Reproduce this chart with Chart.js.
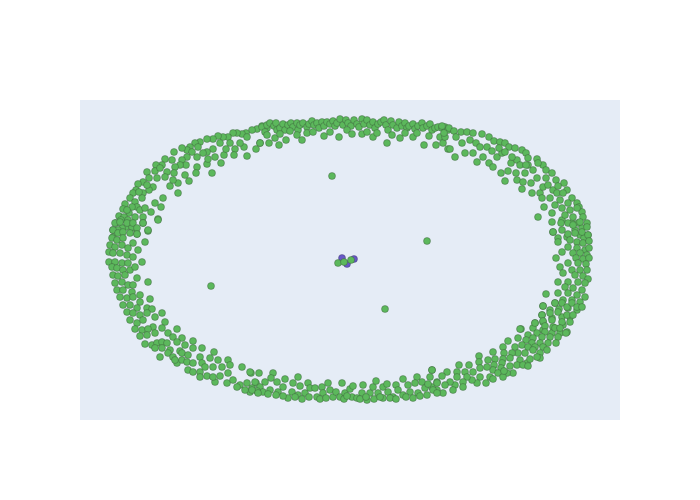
<!DOCTYPE html>
<html>
<head>
<meta charset="utf-8">
<script src="https://cdn.jsdelivr.net/npm/chart.js@4/dist/chart.umd.min.js"></script>
<style>
html,body{margin:0;padding:0;background:#fff;}
#wrap{width:700px;height:500px;position:relative;}
</style>
</head>
<body>
<div id="wrap"><canvas id="c" width="700" height="500"></canvas></div>
<script>
// Node positions (layout units)
const arcTopLeft = [[262,126],[257,129],[252,130],[267,128],[246,133],[242,134],[237,133],[233,133],[228,137],[223,137],[218,136],[213,139],[207,139],[200,142],[195,143],[190,147],[187,150],[182,148],[174,152],[172,160],[165,159],[162,165],[156,165],[155,171],[147,172],[149,178],[143,182],[138,184],[136,190],[133,193],[130,198],[125,204],[123,209],[119,216],[116,223],[113,230],[113,237],
[260,143],[256,149],[247,156],[244,147],[235,149],[234,155],[224,155],[221,163],[215,157],[212,173],[207,164],[208,159],[197,167],[196,173],[189,181],[185,175],[178,183],[178,193],[170,186],[163,198],[161,207],[155,203],[151,212],[158,219],[143,217],[143,223],[148,231],[137,234],[133,228],
[247,137],[240,143],[230,143],[226,149],[220,143],[213,149],[207,152],[203,153],[198,147],[197,157],[192,152],[187,157],[182,160],[186,165],[180,165],[175,167],[174,173],[173,180],[167,172],[165,177],[160,168],[157,178],[153,187],[149,190],[147,185],[143,193],[142,198],[139,192],[135,202],[137,207],[132,207],[129,213],[127,210],[124,217],[121,220],[128,220],[126,227],[122,228],[118,230],[132,227],[135,217],[140,210],[145,208]];

const arcTop = [[262,127],[265,132],[267,125],[270,123],[274,126],[276,123],[277,130],[280,128],[283,124],[285,130],[288,125],[291,123],[293,127],[297,123],[298,130],[300,125],[303,123],[307,127],[309,124],[312,121],[314,125],[317,123],[319,128],[322,122],[324,126],[327,122],[330,124],[333,121],[335,126],[337,123],[340,119],[343,125],[346,120],[348,123],[351,126],[354,120],[357,124],[359,127],[362,119],[364,124],[367,120],[370,125],[373,122],[375,128],[378,124],[381,122],[384,120],[386,125],[388,130],[391,121],[393,125],[397,128],[399,122],[402,126],[405,123],[407,128],[409,126],[413,124],[415,129],[418,126],[422,123],[423,128],[427,126],[430,124],[432,130],[435,128],[438,127],[442,128],[445,127],[448,130],
[260,143],[269,143],[275,138],[279,145],[286,140],[297,135],[302,140],[307,133],[313,132],[324,136],[330,132],[339,137],[347,130],[352,134],[362,134],[367,132],[373,137],[377,133],[387,143],[392,135],[400,138],[405,133],[413,137],[417,133],[424,145],[429,136],[436,145],[440,137],[443,143],[448,149],[267,135],[280,134],[290,131]];

const arcTopRight = [[442,126],[449,128],[454,131],[461,132],[467,132],[473,133],[482,134],[489,137],[494,141],[500,142],[505,143],[509,147],[515,148],[522,150],[526,153],[528,158],[537,159],[543,165],[546,170],[552,173],[556,180],[564,183],[567,190],[572,198],[577,203],[579,207],[582,212],[583,217],[587,223],[588,235],
[445,137],[450,149],[455,157],[462,143],[465,153],[470,140],[473,153],[477,162],[483,157],[487,147],[489,163],[493,167],[497,157],[501,173],[502,153],[505,181],[508,171],[511,163],[516,173],[517,180],[517,160],[522,189],[523,182],[525,173],[528,165],[531,183],[532,193],[533,170],[537,178],[538,163],[540,193],[542,198],[543,187],[544,207],[546,178],[548,185],[550,198],[552,213],[553,190],[555,205],[557,193],[558,186],[560,200],[562,208],[562,220],[563,193],[565,215],[568,203],[570,210],[572,223],[573,217],[575,230],[577,208],[578,223],[580,235],[582,228],[584,238],[538,217],[553,232],[558,238],[567,237],
[444,133],[456,137],[476,143],[480,147],[492,151],[499,148],[505,152],[512,157],[520,165],[526,165]];

const arcRight = [[552,222],[561,223],[568,223],[573,225],[580,222],[553,232],[562,230],[568,234],[575,233],[582,232],[587,227],[588,235],[558,242],[570,240],[577,242],[583,243],[589,241],[568,247],[577,248],[585,250],[589,248],[562,252],[573,253],[580,253],[587,255],[556,258],[576,258],[583,259],[589,258],[568,263],[578,263],[586,264],[560,267],[572,270],[580,270],[587,270],[563,273],[575,275],[583,276],[588,279],[558,282],[568,282],[578,282],[585,283],[565,287],[573,288],[582,290],[546,294],[558,293],[568,293],[577,295],[585,297],[555,303],[563,300],[572,300],[580,302],[543,306],[550,310],[559,309],[568,308],[577,310],[542,315],[552,318],[562,317],[570,317],[535,323],[543,322],[553,327],[563,325],[521,329],[533,328],[543,330],[552,333],[560,333],[567,332]];

const arcBottomRight = [[543,306],[555,303],[562,303],[567,307],[572,303],[577,307],[582,307],[550,313],[558,312],[567,315],[573,315],[542,315],[543,321],[552,320],[562,322],[570,322],[535,323],[545,326],[555,328],[560,328],[566,333],[537,333],[528,335],[520,329],[545,332],[550,337],[558,337],[518,338],[526,340],[533,338],[542,337],[556,343],[548,343],[540,343],[532,343],[522,345],[515,347],[508,341],[503,347],[528,347],[535,347],[543,347],[547,350],[540,353],[533,350],[525,353],[518,353],[512,353],[504,353],[493,352],[479,356],[520,360],[527,363],[530,359],[540,358],[537,357],[510,358],[503,359],[495,359],[488,360],[517,365],[523,365],[528,366],[510,366],[502,363],[494,365],[479,362],[469,365],[459,365],[501,368],[493,370],[487,367],[480,368],[473,372],[465,372],[457,372],[447,372],[432,370],[513,373],[507,373],[498,373],[490,377],[493,379],[486,383],[480,377],[477,383],[472,380],[467,377],[463,382],[457,377],[455,385],[450,382],[445,385],[442,376],[437,382],[437,390],[443,393],[453,390],[463,387],[432,387],[503,377],[504,371]];

const arcBottom = [[251,373],[259,373],[273,373],[271,378],[265,382],[256,383],[252,388],[260,387],[263,392],[270,390],[277,382],[283,387],[278,392],[285,379],[293,383],[298,377],[300,386],[292,392],[298,395],[305,393],[308,383],[310,388],[315,388],[317,397],[322,387],[323,393],[328,383],[330,390],[333,397],[336,392],[342,383],[340,397],[345,393],[350,389],[353,386],[352,397],[357,398],[363,385],[362,393],[367,400],[370,393],[373,387],[376,381],[378,393],[383,387],[383,398],[388,392],[387,384],[393,397],[396,385],[398,390],[403,379],[403,395],[408,385],[410,392],[417,377],[415,383],[418,393],[422,382],[425,388],[428,384],[430,377],[432,370],[433,390],[437,383],[437,393],[250,392],
[288,398],[295,397],[302,399],[309,397],[320,399],[326,398],[344,399],[347,396],[360,399],[366,397],[374,399],[380,397],[390,398],[396,399],[406,397],[413,398],[420,396],[427,395],[283,396],[276,395],[268,394],[257,391]];

const arcBottomLeft = [[115,223],[120,222],[127,223],[133,223],[143,223],[158,220],[137,228],[148,230],[113,230],[118,233],[123,232],[130,233],[137,234],[112,238],[117,240],[123,238],[133,243],[145,242],[110,245],[115,247],[122,245],[128,248],[138,250],[109,252],[113,253],[120,253],[127,255],[133,257],[109,262],[115,262],[122,263],[128,263],[142,262],[112,267],[117,268],[123,270],[130,270],[135,267],[113,275],[118,276],[125,275],[137,278],[148,282],[115,283],[122,282],[128,285],[133,285],[117,290],[123,290],[132,292],[140,295],[150,299],[120,297],[127,298],[133,297],[140,302],[123,305],[130,305],[137,308],[147,308],[152,309],[162,313],[127,312],[133,313],[140,315],[147,313],[155,317],[165,322],[130,320],[137,323],[143,320],[153,327],[162,328],[177,329],[135,329],[142,330],[148,329],[140,336],[147,335],[155,333],[168,333],[173,337],[182,338],[145,344],[152,345],[157,343],[162,342],[167,343],[177,342],[185,345],[193,341],[155,348],[162,348],[170,350],[180,351],[160,357],[168,353],[173,357],[182,353],[188,355],[193,348],[202,348],[214,352],[177,363],[175,360],[182,360],[187,362],[193,363],[200,357],[202,363],[210,358],[218,360],[228,360],[188,370],[193,372],[200,372],[205,367],[213,367],[222,367],[230,365],[242,367],[200,377],[207,376],[215,382],[220,376],[227,383],[233,380],[240,385],[247,383],[250,372],[255,382],[245,390],[252,390],[258,393],[228,373],[237,387],[213,377]];

const strayNodes = [[332,176],[427,241],[211,286],[385,309]];
const hubGreen = [[338,263],[344,262],[351,260]];
const hubBlue = [[342,258],[347,264],[354,259]];

const toPts = a => a.map(p => ({x: p[0], y: p[1]}));
const greenNodes = [].concat(arcTopLeft, arcTop, arcTopRight, arcRight, arcBottomRight, arcBottom, arcBottomLeft, strayNodes, hubGreen);

const bgPlugin = {
  id: 'bg',
  beforeDraw(chart) {
    const {ctx, chartArea: a} = chart;
    ctx.save();
    ctx.fillStyle = '#ffffff';
    ctx.fillRect(0, 0, chart.width, chart.height);
    ctx.fillStyle = '#e5ecf6';
    ctx.fillRect(a.left, a.top, a.right - a.left, a.bottom - a.top);
    ctx.restore();
  }
};

new Chart(document.getElementById('c'), {
  type: 'scatter',
  data: {
    datasets: [
      {
        label: 'nodes',
        data: toPts(greenNodes),
        pointRadius: 3.5,
        pointBackgroundColor: '#5cb85c',
        pointBorderColor: 'rgba(50,70,50,0.6)',
        pointBorderWidth: 0.6
      },
      {
        label: 'hub',
        data: toPts(hubBlue),
        pointRadius: 3.5,
        pointBackgroundColor: '#6757c6',
        pointBorderColor: 'rgba(50,50,80,0.6)',
        pointBorderWidth: 0.6
      }
    ]
  },
  options: {
    responsive: false,
    animation: false,
    clip: false,
    layout: {padding: {left: 80, right: 80, top: 100, bottom: 80}},
    plugins: {legend: {display: false}, tooltip: {enabled: false}},
    scales: {
      x: {type: 'linear', min: 80, max: 620, display: false},
      y: {type: 'linear', min: 100, max: 420, reverse: true, display: false}
    }
  },
  plugins: [bgPlugin]
});
</script>
</body>
</html>
